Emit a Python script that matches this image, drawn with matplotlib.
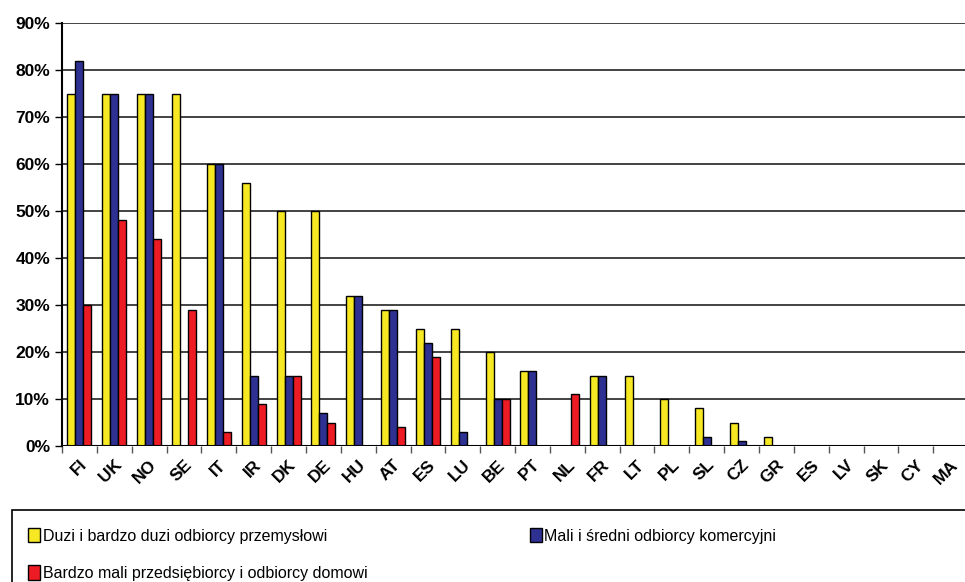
import numpy as np
import matplotlib.pyplot as plt
from matplotlib.patches import Rectangle
from matplotlib.ticker import PercentFormatter

countries = ['FI', 'UK', 'NO', 'SE', 'IT', 'IR', 'DK', 'DE', 'HU', 'AT', 'ES', 'LU', 'BE',
             'PT', 'NL', 'FR', 'LT', 'PL', 'SL', 'CZ', 'GR', 'ES', 'LV', 'SK', 'CY', 'MA']
duzi = [75, 75, 75, 75, 60, 56, 50, 50, 32, 29, 25, 25, 20, 16, 0, 15, 15, 10, 8, 5, 2, 0, 0, 0, 0, 0]
mali = [82, 75, 75, 0, 60, 15, 15, 7, 32, 29, 22, 3, 10, 16, 0, 15, 0, 0, 2, 1, 0, 0, 0, 0, 0, 0]
domowi = [30, 48, 44, 29, 3, 9, 15, 5, 0, 4, 19, 0, 10, 0, 11, 0, 0, 0, 0, 0, 0, 0, 0, 0, 0, 0]
labels = ['Duzi i bardzo duzi odbiorcy przemysłowi',
          'Mali i średni odbiorcy komercyjni',
          'Bardzo mali przedsiębiorcy i odbiorcy domowi']
colors = ['#F7E824', '#2E3192', '#ED1C24']

plt.rcParams['font.family'] = ['Liberation Sans', 'DejaVu Sans']

W, H = 965, 582
fig = plt.figure(figsize=(W / 100, H / 100), dpi=100)
cat_w = 34.85
ax = fig.add_axes([62 / W, 1 - 446 / H, 26 * cat_w / W, (446 - 23) / H])

x = np.arange(len(countries))
bw = 0.23
for i, (vals, c) in enumerate(zip([duzi, mali, domowi], colors)):
    ax.bar(x + (i - 1) * bw, vals, bw, color=c, edgecolor='black', linewidth=1.0,
           label=labels[i], zorder=3)

ax.set_xlim(-0.5, len(countries) - 0.5)
ax.set_ylim(0, 90)
ax.set_yticks(np.arange(0, 91, 10))
ax.yaxis.set_major_formatter(PercentFormatter(decimals=0))
ax.grid(axis='y', color='#222222', linewidth=1.2, zorder=0)
ax.set_axisbelow(True)
for s in ['top', 'right', 'bottom']:
    ax.spines[s].set_visible(False)
ax.spines['left'].set_linewidth(1.5)
ax.axhline(0, color='black', linewidth=1.5, zorder=4)

ax.set_xticks(np.arange(-0.5, len(countries), 1))
ax.set_xticklabels([])
ax.tick_params(axis='x', length=5, width=1, color='#555555', direction='out')
ax.set_xticks(x, minor=True)
ax.set_xticklabels(countries, minor=True, rotation=45, ha='right', rotation_mode='anchor',
                   fontsize=12.5, fontweight='bold')
ax.tick_params(axis='x', which='minor', length=0, pad=8)
ax.tick_params(axis='y', length=5, width=1, labelsize=12.5)
for t in ax.get_yticklabels():
    t.set_fontweight('bold')

# legend box
fig.patches.append(Rectangle((12 / W, -0.05), 1.0, (582 - 510) / H + 0.05,
                             transform=fig.transFigure, fill=False, edgecolor='black',
                             linewidth=1.2))
h, l = ax.get_legend_handles_labels()
order = [0, 2, 1]
leg = fig.legend([h[k] for k in order], [l[k] for k in order], ncol=2,
                 loc='upper left', bbox_to_anchor=(17 / W, 1 - 517 / H),
                 frameon=False, handlelength=0.75, handleheight=1.0, handletextpad=0.15,
                 columnspacing=10.2, labelspacing=1.35, borderpad=0.2,
                 prop={'size': 11.5})

fig.savefig('out.png', dpi=100)
